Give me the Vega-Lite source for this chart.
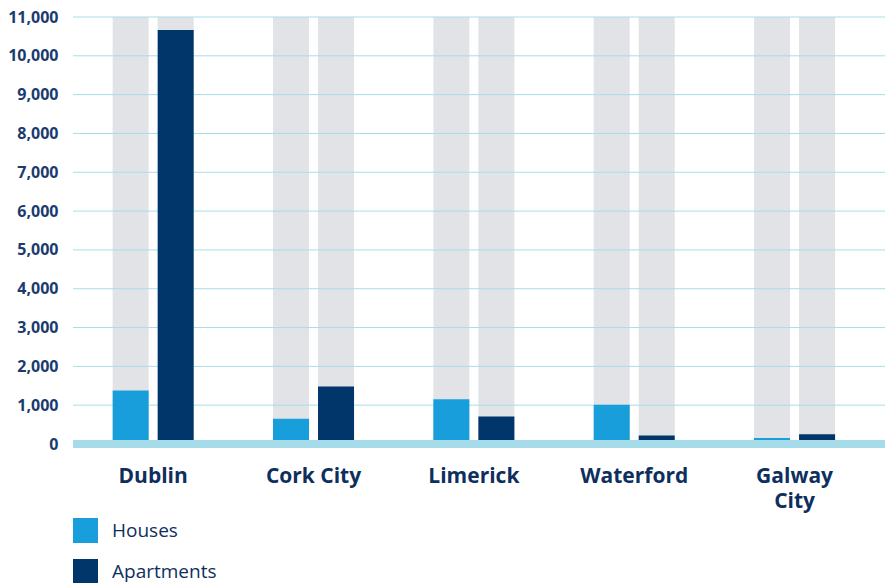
{
  "$schema": "https://vega.github.io/schema/vega-lite/v6.json",
  "autosize": {"type": "none"},
  "padding": {"left": 73, "top": 17, "right": 0, "bottom": 139},
  "width": 812,
  "height": 427,
  "background": "white",
  "config": {
    "view": {"stroke": null},
    "font": "Open Sans",
    "axisY": {
      "title": null,
      "domain": false,
      "ticks": false,
      "grid": false,
      "tickCount": 11,
      "labelExpr": "format(datum.value, ',')",
      "labelFontSize": 16,
      "labelFontWeight": "bold",
      "labelColor": "#1b3b6f",
      "labelPadding": 15
    }
  },
  "datasets": {
    "grid": [
      {"v": 1000}, {"v": 2000}, {"v": 3000}, {"v": 4000}, {"v": 5000}, {"v": 6000},
      {"v": 7000}, {"v": 8000}, {"v": 9000}, {"v": 10000}, {"v": 11000}
    ]
  },
  "data": {
    "values": [
      {"city": "Dublin", "type": "Houses", "value": 1380},
      {"city": "Dublin", "type": "Apartments", "value": 10665},
      {"city": "Cork City", "type": "Houses", "value": 650},
      {"city": "Cork City", "type": "Apartments", "value": 1480},
      {"city": "Limerick", "type": "Houses", "value": 1155},
      {"city": "Limerick", "type": "Apartments", "value": 710},
      {"city": "Waterford", "type": "Houses", "value": 1010},
      {"city": "Waterford", "type": "Apartments", "value": 220},
      {"city": "Galway City", "type": "Houses", "value": 155},
      {"city": "Galway City", "type": "Apartments", "value": 250}
    ]
  },
  "encoding": {
    "x": {
      "field": "city",
      "type": "nominal",
      "sort": ["Dublin", "Cork City", "Limerick", "Waterford", "Galway City"],
      "scale": {"paddingInner": 0, "paddingOuter": 0.032, "align": 0},
      "axis": {
        "title": null,
        "domain": false,
        "ticks": false,
        "labelAngle": 0,
        "labelFontSize": 21,
        "labelFontWeight": "bold",
        "labelColor": "#0e2f5e",
        "labelPadding": 21,
        "labelLineHeight": 25,
        "labelExpr": "datum.label == 'Galway City' ? ['Galway', 'City'] : datum.label"
      }
    },
    "xOffset": {
      "field": "type",
      "type": "nominal",
      "sort": ["Houses", "Apartments"],
      "scale": {"paddingInner": 0.2, "paddingOuter": 0.881}
    }
  },
  "layer": [
    {
      "mark": {"type": "bar", "color": "#e1e3e7"},
      "encoding": {
        "y": {"datum": 11000, "type": "quantitative", "scale": {"domain": [0, 11000], "nice": false}}
      }
    },
    {
      "data": {"name": "grid"},
      "mark": {"type": "rule", "color": "#a8dde9", "strokeWidth": 1},
      "encoding": {
        "x": null,
        "xOffset": null,
        "y": {"field": "v", "type": "quantitative"}
      }
    },
    {
      "mark": {"type": "bar"},
      "encoding": {
        "y": {"field": "value", "type": "quantitative"},
        "color": {
          "field": "type",
          "type": "nominal",
          "sort": ["Houses", "Apartments"],
          "scale": {"domain": ["Houses", "Apartments"], "range": ["#189fdb", "#00366a"]},
          "legend": {
            "title": null,
            "orient": "none",
            "legendX": 0,
            "legendY": 501,
            "direction": "vertical",
            "symbolType": "square",
            "symbolSize": 625,
            "symbolStrokeWidth": 0,
            "symbolOpacity": 1,
            "labelFontSize": 19,
            "labelColor": "#0e2f5e",
            "labelOffset": 14,
            "rowPadding": 16
          }
        }
      }
    },
    {
      "mark": {"type": "rule", "color": "#a6dcea", "strokeWidth": 8},
      "encoding": {
        "x": null,
        "xOffset": null,
        "y": {"datum": 0, "type": "quantitative"}
      }
    }
  ]
}
